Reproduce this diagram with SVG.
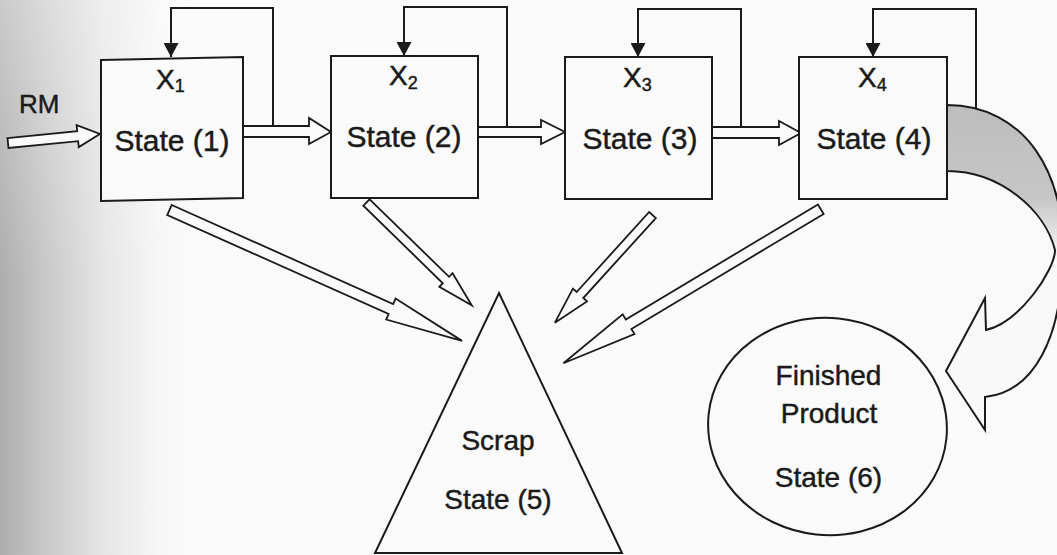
<svg xmlns="http://www.w3.org/2000/svg" width="1057" height="555" viewBox="0 0 1057 555">
  <defs>
    <linearGradient id="paperShade" gradientUnits="userSpaceOnUse" x1="0" y1="0" x2="190" y2="0">
      <stop offset="0" stop-color="#adadad"/>
      <stop offset="0.25" stop-color="#c9c9c9"/>
      <stop offset="0.55" stop-color="#e6e6e6"/>
      <stop offset="0.85" stop-color="#f7f7f7"/>
      <stop offset="1" stop-color="#fafafa"/>
    </linearGradient>
    <linearGradient id="paperTop" x1="0" y1="0" x2="0" y2="1">
      <stop offset="0" stop-color="#ffffff" stop-opacity="0.35"/>
      <stop offset="0.5" stop-color="#ffffff" stop-opacity="0"/>
    </linearGradient>
    <linearGradient id="bandShade" gradientUnits="userSpaceOnUse" x1="0" y1="105" x2="0" y2="260">
      <stop offset="0" stop-color="#bdbdbd"/>
      <stop offset="0.6" stop-color="#c6c6c6"/>
      <stop offset="1" stop-color="#f9f9f9"/>
    </linearGradient>
    <marker id="loopHead" markerUnits="userSpaceOnUse" markerWidth="15" markerHeight="15" refX="14" refY="7.5" orient="auto">
      <path d="M0,0 L14,7.5 L0,15 Z" fill="#1a1a1a"/>
    </marker>
  </defs>
  <style>
    .box { fill: #fafafa; stroke: #1a1a1a; stroke-width: 2; }
    .loop { fill: none; stroke: #1a1a1a; stroke-width: 2; }
    .hollow { fill: #fafafa; stroke: #1a1a1a; stroke-width: 1.8; stroke-linejoin: miter; }
    .shape { fill: #fafafa; stroke: #1a1a1a; stroke-width: 2; }
    .lbl { font-family: "Liberation Sans", Arial, sans-serif; fill: #1a1a1a; stroke: #1a1a1a; stroke-width: 0.45; }
    .state { font-size: 30px; text-anchor: middle; }
    .sink { font-size: 28px; text-anchor: middle; }
    .xvar { font-size: 28px; }
    .sub { font-size: 18px; }
  </style>

  <!-- paper with darkened left margin -->
  <rect x="0" y="0" width="1057" height="555" fill="url(#paperShade)"/>
  <rect x="0" y="0" width="190" height="555" fill="url(#paperTop)"/>

  <!-- connectors -->
  <g id="connectors">
    <!-- feedback loops on each state -->
    <path class="loop" d="M273,126 V8 H171 V57" marker-end="url(#loopHead)"/>
    <path class="loop" d="M507,126 V7 H404 V56" marker-end="url(#loopHead)"/>
    <path class="loop" d="M741,127 V9 H638 V57" marker-end="url(#loopHead)"/>
    <path class="loop" d="M976,108 V9 H873 V57" marker-end="url(#loopHead)"/>

    <!-- raw material input -->
    <path class="hollow" transform="translate(8,143) rotate(-5.6)" d="M0,-5 H70 V-11 L92.4,0 L70,11 V5 H0 Z"/>

    <!-- forward flow between states -->
    <path class="hollow" d="M243,126 H309 V118 L331,132 L309,144 V137 H243 Z"/>
    <path class="hollow" d="M478,127 H541 V120 L565,132 L541,144 V137 H478 Z"/>
    <path class="hollow" d="M712,127 H779 V121 L801,133 L779,145 V138 H712 Z"/>

    <!-- flows to scrap -->
    <path class="hollow" transform="translate(169.5,210) rotate(24.1)" d="M0,-5.5 H242.5 V-11.5 L320.5,0 L242.5,11.5 V5.5 H0 Z"/>
    <path class="hollow" transform="translate(366.5,202.5) rotate(44.3)" d="M0,-4.5 H111 V-9.5 L147,0 L111,9.5 V4.5 H0 Z"/>
    <path class="hollow" transform="translate(652.5,215) rotate(132.2)" d="M0,-4.5 H108 V-9.5 L145.3,0 L108,9.5 V4.5 H0 Z"/>
    <path class="hollow" transform="translate(820.8,209.2) rotate(149.1)" d="M0,-5.5 H224 V-11.5 L300,0 L224,11.5 V5.5 H0 Z"/>

    <!-- curved flow to finished product -->
    <path fill="url(#bandShade)" stroke="#1a1a1a" stroke-width="2" stroke-linejoin="miter"
          d="M947,105 C1025,105 1068,175 1062,260 C1062,335 1035,392 985,397 L985,430 L946,371 L985,298 L986,330 C1020,322 1055,270 1055,250 C1045,210 1000,171 947,171 Z"/>
  </g>

  <!-- RM label -->
  <text class="lbl" x="19" y="113" font-size="26">RM</text>

  <g id="state1">
    <polygon class="box" points="101,60 243,57 243,198 101,201"/>
    <text class="lbl xvar" x="156" y="89">X<tspan class="sub" dy="3">1</tspan></text>
    <text class="lbl state" x="172" y="151">State (1)</text>
  </g>

  <g id="state2">
    <rect class="box" x="331" y="56" width="147" height="142"/>
    <text class="lbl xvar" x="389" y="85">X<tspan class="sub" dy="4">2</tspan></text>
    <text class="lbl state" x="404" y="147">State (2)</text>
  </g>

  <g id="state3">
    <rect class="box" x="565" y="57" width="147" height="142"/>
    <text class="lbl xvar" x="623" y="87">X<tspan class="sub" dy="4">3</tspan></text>
    <text class="lbl state" x="640" y="149">State (3)</text>
  </g>

  <g id="state4">
    <rect class="box" x="799" y="57" width="148" height="142"/>
    <text class="lbl xvar" x="858" y="87">X<tspan class="sub" dy="4">4</tspan></text>
    <text class="lbl state" x="874" y="149">State (4)</text>
  </g>

  <g id="scrap">
    <polygon class="shape" points="499,293 622,553 375,553"/>
    <text class="lbl sink" x="498" y="450">Scrap</text>
    <text class="lbl sink" x="498" y="509">State (5)</text>
  </g>

  <g id="finished">
    <ellipse class="shape" cx="827.5" cy="426.5" rx="119.5" ry="108.5" transform="rotate(6 827.5 426.5)"/>
    <text class="lbl sink" x="828.5" y="385">Finished</text>
    <text class="lbl sink" x="829" y="423">Product</text>
    <text class="lbl sink" x="828.5" y="487">State (6)</text>
  </g>
</svg>
